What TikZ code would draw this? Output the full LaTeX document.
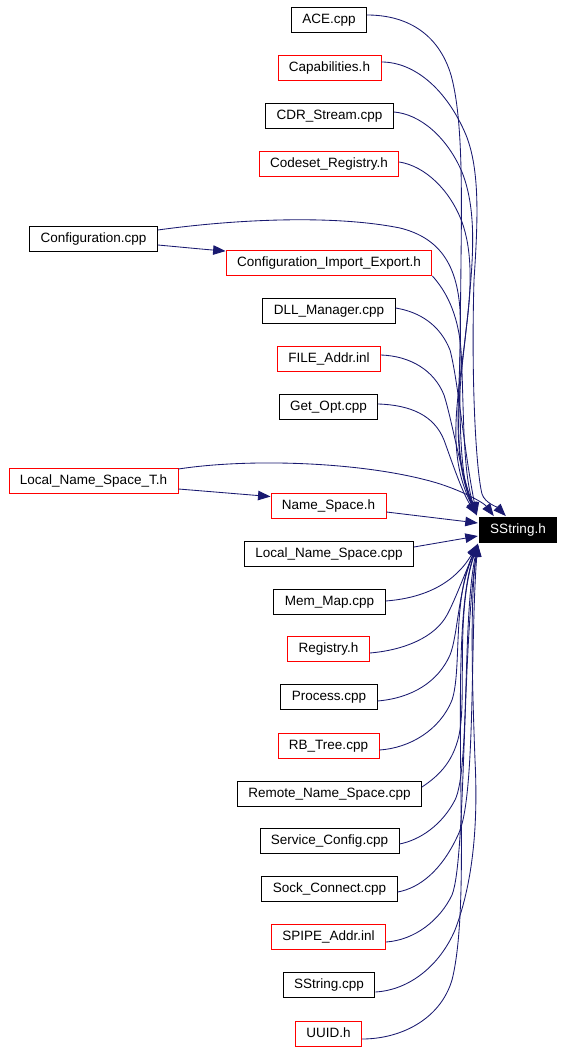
\documentclass[tikz,border=0pt]{standalone}
\usepackage{fontspec}
\setmainfont{Liberation Sans}
\usetikzlibrary{arrows.meta,calc}
\definecolor{edgeblue}{HTML}{191970}
\begin{document}
\begin{tikzpicture}[x=1pt,y=-1pt,
  box/.style={draw=black,line width=0.9pt,fill=white,minimum height=25pt,inner xsep=11pt,inner ysep=0pt,
    text height=9.8pt,text depth=2.7pt,font=\fontsize{13.5}{15}\selectfont},
  redbox/.style={box,draw=red},
  ssbox/.style={box,fill=black,text=white},
  dep/.style={draw=edgeblue,line width=0.85pt,-{Triangle[length=12.5pt,width=9.5pt]}},
]
\fill[white] (0,0) rectangle (572,1052);
\useasboundingbox (0,0) rectangle (572,1052);

\node[box] (ace) at (329,20) {ACE.cpp};
\node[redbox] (cap) at (329.5,68) {Capabilities.h};
\node[box] (cdr) at (329.5,116) {CDR\_Stream.cpp};
\node[redbox] (codeset) at (329,164) {Codeset\_Registry.h};
\node[box] (config) at (93.5,238.5) {Configuration.cpp};
\node[redbox] (cie) at (329,263) {Configuration\_Import\_Export.h};
\node[box] (dll) at (329,311) {DLL\_Manager.cpp};
\node[redbox] (file) at (329,359) {FILE\_Addr.inl};
\node[box] (getopt) at (328.5,407) {Get\_Opt.cpp};
\node[redbox] (lnst) at (93.5,480.5) {Local\_Name\_Space\_T.h};
\node[redbox] (ns) at (328.5,506) {Name\_Space.h};
\node[ssbox] (ss) at (518,530) {SString.h};
\node[box] (lns) at (329,554) {Local\_Name\_Space.cpp};
\node[box] (memmap) at (329.5,602) {Mem\_Map.cpp};
\node[redbox] (registry) at (328.5,649) {Registry.h};
\node[box] (process) at (329,697) {Process.cpp};
\node[redbox] (rbtree) at (328.5,745.5) {RB\_Tree.cpp};
\node[box] (rns) at (329.5,793.5) {Remote\_Name\_Space.cpp};
\node[box] (svc) at (329.5,841) {Service\_Config.cpp};
\node[box] (sock) at (329.5,889) {Sock\_Connect.cpp};
\node[redbox] (spipe) at (328.5,937) {SPIPE\_Addr.inl};
\node[box] (sscpp) at (329,985) {SString.cpp};
\node[redbox] (uuid) at (328.5,1033.5) {UUID.h};

\coordinate (t1) at ($(ss.north west)+(-2,-2)$);
\coordinate (t2) at ($(ss.north west)+(15,-1)$);
\coordinate (t3) at ($(ss.north west)+(27,-1)$);
\coordinate (l1) at ($(ss.west)+(-1,-7)$);
\coordinate (l2) at ($(ss.west)+(-1,6)$);
\coordinate (bt) at ($(ss.south west)+(-1,1)$);

% top group
\draw[dep] ($(ace.east)+(0,-5)$) .. controls (405,15) and (438,32) .. (451,75)
  .. controls (462,115) and (462,180) .. (461,260) .. controls (460,380) and (456,470) .. (t1);
\draw[dep] ($(cap.east)+(0,-6)$) .. controls (415,62) and (447,90) .. (466,135)
  .. controls (480,170) and (478,220) .. (474,280) .. controls (471,380) and (476,470) .. (482,494)
  .. controls (485,503) and (497,507) .. (t3);
\draw[dep] ($(cdr.east)+(0,-4)$) .. controls (420,114) and (447,137) .. (462,172)
  .. controls (475,205) and (474,245) .. (470,290) .. controls (465,360) and (446,440) .. (t1);
\draw[dep] ($(codeset.east)+(0,-2)$) .. controls (425,166) and (450,190) .. (462,222)
  .. controls (472,250) and (472,285) .. (466,330) .. controls (460,390) and (444,450) .. (t1);
\draw[dep] ($(config.east)+(0,-8.5)$) .. controls (230,220) and (330,214) .. (400,228)
  .. controls (440,238) and (457,265) .. (460,310) .. controls (463,380) and (448,450) .. (t1);
\draw[dep] ($(config.east)+(0,6.5)$) .. controls (180,247) and (200,249) .. ($(cie.north west)+(0,1)$);
\draw[dep] (cie.south east) .. controls (445,290) and (458,312) .. (461,350)
  .. controls (464,400) and (462,470) .. (t1);
\draw[dep] ($(dll.east)+(0,-3)$) .. controls (420,312) and (440,325) .. (450,350)
  .. controls (458,380) and (464,450) .. (t1);
\draw[dep] ($(file.east)+(0,-4)$) .. controls (410,356) and (434,370) .. (444,395)
  .. controls (452,420) and (460,470) .. (t1);
\draw[dep] ($(getopt.east)+(0,-3)$) .. controls (410,405) and (434,415) .. (444,440)
  .. controls (452,462) and (462,492) .. (t1);
\draw[dep] ($(lnst.east)+(0,-11.5)$) .. controls (250,458) and (360,462) .. (430,481)
  .. controls (460,489) and (484,503) .. (t2);
\draw[dep] ($(lnst.east)+(0,8.5)$) -- ($(ns.north west)+(0,3.5)$);

% side
\draw[dep] ($(ns.east)+(0,6)$) -- (l1);
\draw[dep] ($(lns.east)+(0,-7)$) -- (l2);

% bottom group
\draw[dep] ($(memmap.east)+(0,-1)$) .. controls (425,598) and (455,583) .. (bt);
\draw[dep] ($(registry.east)+(0,4)$) .. controls (405,650) and (435,637) .. (447,615)
  .. controls (455,600) and (463,578) .. (bt);
\draw[dep] ($(process.east)+(0,4)$) .. controls (412,698) and (438,682) .. (450,655)
  .. controls (458,635) and (458,590) .. (bt);
\draw[dep] ($(rbtree.east)+(0,4.5)$) .. controls (410,748) and (440,730) .. (452,700)
  .. controls (462,670) and (452,600) .. (bt);
\draw[dep] ($(rns.east)+(0,-6.5)$) .. controls (440,775) and (455,760) .. (460,730)
  .. controls (466,690) and (456,610) .. (bt);
\draw[dep] ($(svc.east)+(0,3)$) .. controls (420,840) and (442,825) .. (455,800)
  .. controls (470,770) and (462,620) .. (bt);
\draw[dep] ($(sock.east)+(0,3)$) .. controls (420,888) and (442,870) .. (458,835)
  .. controls (476,800) and (470,640) .. (bt);
\draw[dep] ($(spipe.east)+(0,5)$) .. controls (415,940) and (440,920) .. (452,895)
  .. controls (466,860) and (462,650) .. (bt);
\draw[dep] ($(sscpp.east)+(0,7)$) .. controls (410,990) and (440,965) .. (455,930)
  .. controls (474,880) and (478,820) .. (475,760) .. controls (472,680) and (470,600) .. (bt);
\draw[dep] ($(uuid.east)+(0,5.5)$) .. controls (400,1039) and (440,1020) .. (452,980)
  .. controls (462,940) and (462,870) .. (461,800) .. controls (460,700) and (458,600) .. (bt);
\end{tikzpicture}
\end{document}
